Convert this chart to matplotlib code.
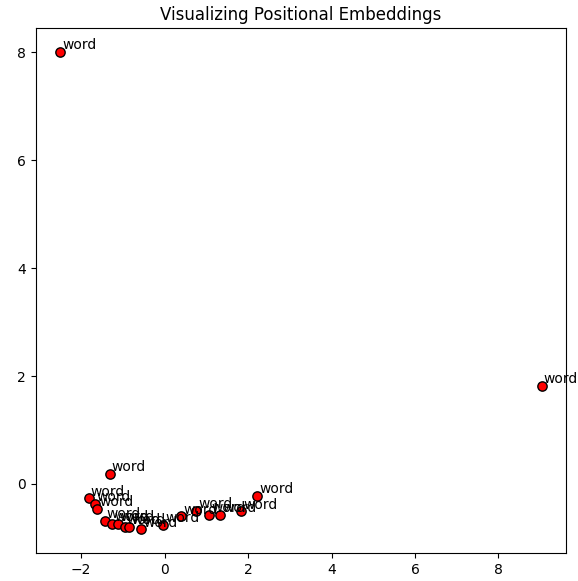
import matplotlib
matplotlib.use("Agg")
import matplotlib.pyplot as plt

# 2D projection of positional embeddings
xs = [-2.51, 9.04, -1.32, -1.82, -1.68, -1.61, -1.44, -1.26, -1.12, -0.96,
      -0.85, -0.57, -0.04, 0.39, 0.76, 1.07, 1.33, 1.84, 2.21]
ys = [8.01, 1.82, 0.19, -0.27, -0.37, -0.46, -0.69, -0.74, -0.74, -0.80,
      -0.80, -0.84, -0.76, -0.60, -0.50, -0.57, -0.57, -0.51, -0.22]
labels = ["word"] * len(xs)

fig = plt.figure(figsize=(5.78, 5.81), dpi=100)
ax = fig.add_axes([0.062, 0.048, 0.917, 0.904])
ax.scatter(xs, ys, c='red', edgecolors='black', s=45)
for x, y, lab in zip(xs, ys, labels):
    ax.text(x + 0.05, y + 0.05, lab)
ax.set_title("Visualizing Positional Embeddings")
fig.savefig("out.png")
